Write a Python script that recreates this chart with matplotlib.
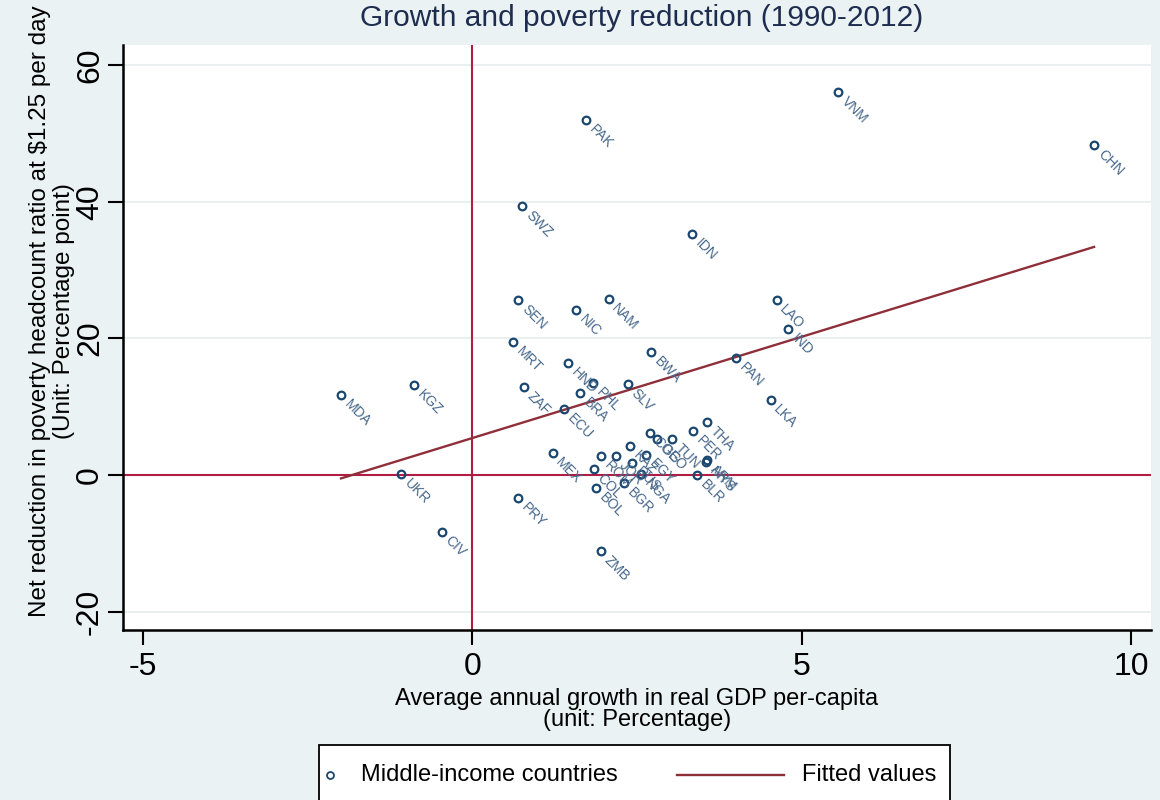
import matplotlib
matplotlib.use("Agg")
import matplotlib.pyplot as plt
from matplotlib.lines import Line2D
from matplotlib.patches import Rectangle

# ---- data ----
countries = ["VNM", "CHN", "PAK", "SWZ", "IDN", "SEN", "NIC", "NAM", "LAO", "IND",
             "MRT", "BWA", "PAN", "HND", "ZAF", "KGZ", "MDA", "BRA", "PHL", "SLV",
             "ECU", "LKA", "MEX", "PRY", "UKR", "CIV", "ZMB", "THA", "PER", "TUN",
             "COG", "GEO", "KAZ", "EGY", "ROM", "JOR", "RUS", "NGA", "BGR", "COL",
             "BOL", "BLR", "MYS", "ARM"]
growth = [5.55, 9.44, 1.73, 0.76, 3.34, 0.70, 1.58, 2.07, 4.62, 4.80,
          0.62, 2.71, 4.00, 1.46, 0.79, -0.88, -1.99, 1.64, 1.84, 2.36,
          1.40, 4.53, 1.22, 0.70, -1.08, -0.46, 1.95, 3.56, 3.36, 3.04,
          2.70, 2.80, 2.40, 2.64, 1.96, 2.19, 2.43, 2.57, 2.31, 1.85,
          1.88, 3.42, 3.55, 3.57]
reduction = [56.1, 48.3, 52.0, 39.4, 35.3, 25.6, 24.2, 25.8, 25.6, 21.4,
             19.5, 18.0, 17.1, 16.4, 12.9, 13.2, 11.7, 12.0, 13.5, 13.3,
             9.7, 11.0, 3.2, -3.4, 0.1, -8.3, -11.1, 7.8, 6.4, 5.3,
             6.2, 5.3, 4.2, 3.0, 2.8, 2.8, 1.8, 0.1, -1.2, 0.9,
             -1.9, 0.0, 1.9, 2.2]
fit_x = [-1.99, 9.44]
fit_y = [-0.5, 33.4]
xticks = [-5, 0, 5, 10]
yticks = [-20, 0, 20, 40, 60]
legend_labels = ["Middle-income countries", "Fitted values"]

# ---- style ----
BG = "#EAF2F3"
NAVY = "#1a476f"
LABEL_C = "#48698c"
REF_C = "#b01c44"
FIT_C = "#8e2f3a"
ARIAL = ["Liberation Sans", "DejaVu Sans"]

fig = plt.figure(figsize=(11.6, 8.0), dpi=100, facecolor=BG)
ax = fig.add_axes([0.106, 0.2125, 0.886, 0.7315])
ax.set_facecolor("white")

ax.set_xlim(-5.3, 10.3)
ax.set_ylim(-22.7, 63.0)

# grid
for yv in yticks:
    ax.axhline(yv, color="#e6ecee", lw=1.2, zorder=0)

# reference lines
ax.axhline(0, color=REF_C, lw=1.5, zorder=1)
ax.axvline(0, color=REF_C, lw=1.5, zorder=1)

# fitted line
ax.plot(fit_x, fit_y, color=FIT_C, lw=1.7, zorder=2)

# scatter
ax.plot(growth, reduction, linestyle="none", marker="o", markersize=5.5,
        markerfacecolor="none", markeredgecolor=NAVY, markeredgewidth=1.6, zorder=3)

for c, gx, ry in zip(countries, growth, reduction):
    ax.annotate(c, (gx, ry), xytext=(4, -5), textcoords="offset points",
                rotation=-45, rotation_mode="anchor", ha="left", va="center",
                fontsize=10, color=LABEL_C, family=ARIAL, zorder=4)

# spines
for s in ["top", "right"]:
    ax.spines[s].set_visible(False)
ax.spines["left"].set_linewidth(1.8)
ax.spines["bottom"].set_linewidth(1.8)

ax.set_xticks(xticks)
ax.set_yticks(yticks)
ax.set_xticklabels([str(v) for v in xticks], family=ARIAL, fontsize=23)
ax.set_yticklabels([str(v) for v in yticks], family=ARIAL, fontsize=23,
                   rotation=90, va="center")
ax.tick_params(axis="x", direction="out", length=11, width=1.5, pad=5)
ax.tick_params(axis="y", direction="out", length=11, width=1.5, pad=2)

ax.set_xlabel("Average annual growth in real GDP per-capita\n(unit: Percentage)",
              family=ARIAL, fontsize=17, linespacing=0.95, labelpad=4)
ax.set_ylabel("Net reduction in poverty headcount ratio at \\$1.25 per day\n(Unit: Percentage point)",
              family=ARIAL, fontsize=17.5, linespacing=1.1)
ax.yaxis.set_label_coords(-0.047, 0.545)

fig.text(0.553, 0.977, "Growth and poverty reduction (1990-2012)", ha="center", va="center",
         family=ARIAL, fontsize=21.5, color="#1e2d4f")

# legend box (manual, Stata style)
fig.patches.append(Rectangle((0.275, -0.01), 0.544, 0.079, transform=fig.transFigure,
                             facecolor="white", edgecolor="black", lw=1.3, zorder=5))
fig.lines.append(Line2D([0.2845], [0.031], transform=fig.transFigure, linestyle="none",
                        marker="o", markersize=5, markerfacecolor="none",
                        markeredgecolor=NAVY, markeredgewidth=1.3, zorder=6))
fig.text(0.311, 0.031, legend_labels[0], ha="left", va="center",
         family=ARIAL, fontsize=17, zorder=6)
fig.lines.append(Line2D([0.5836, 0.6759], [0.031, 0.031], transform=fig.transFigure,
                        color=FIT_C, lw=1.7, zorder=6))
fig.text(0.691, 0.031, legend_labels[1], ha="left", va="center",
         family=ARIAL, fontsize=17, zorder=6)

fig.savefig("out.png", dpi=100, facecolor=BG)
